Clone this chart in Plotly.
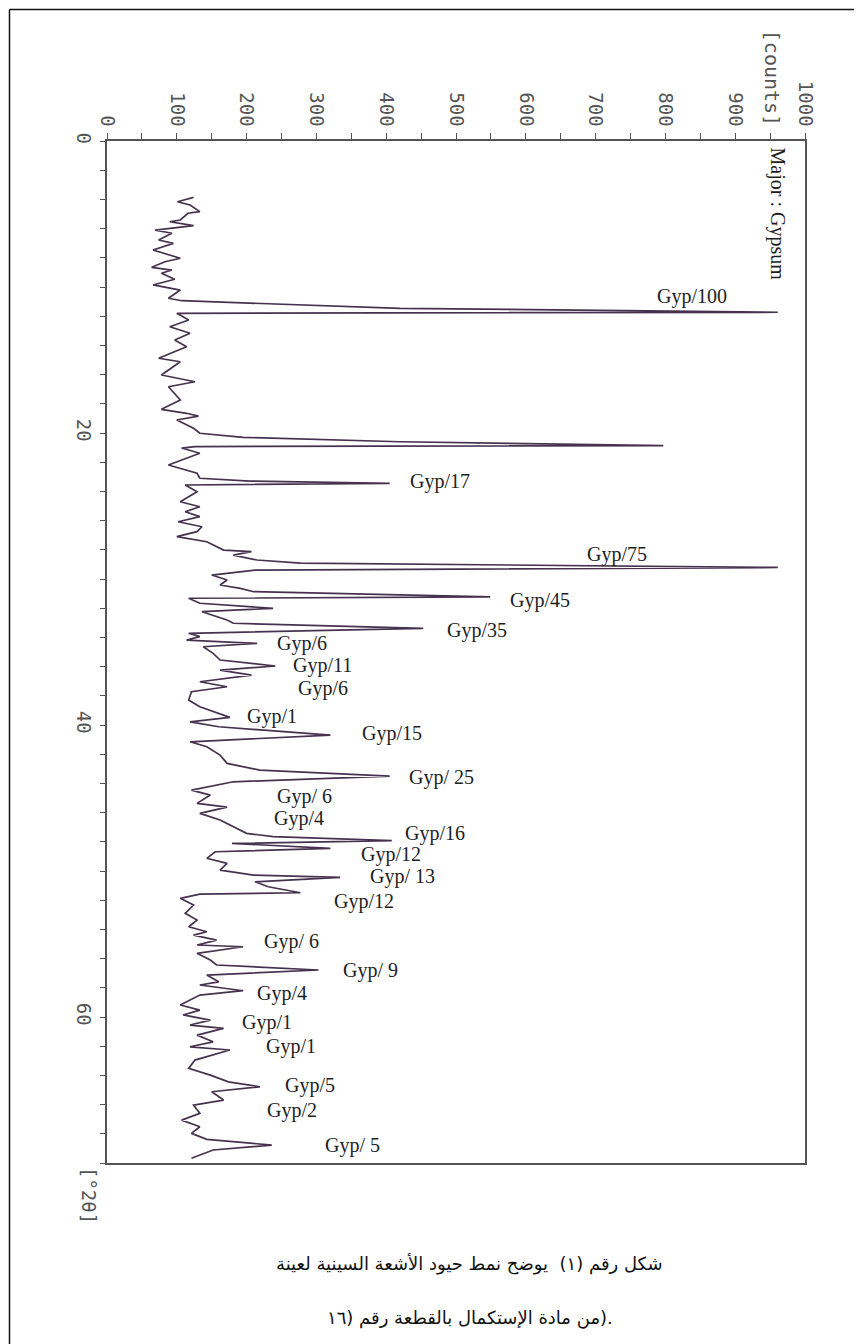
import plotly.graph_objects as go

# ---- data (2-theta in degrees, intensity in counts) ----
two_theta = [3.86, 4.16, 4.38, 4.84, 4.95, 5.41, 5.53, 5.80, 6.10, 6.32, 6.78, 7.01, 7.47, 8.03, 8.27,
             8.65, 8.84, 9.06, 9.47, 9.86, 10.21, 10.77, 10.94, 11.46, 11.73, 11.80,
             12.26, 12.72, 13.17, 13.63, 14.09, 14.88, 15.12, 16.03, 16.49, 16.83, 17.74, 18.38, 18.65,
             18.84, 19.11, 19.68, 20.02, 20.30, 20.60, 20.86, 20.93, 21.03, 21.39, 22.19, 22.76, 23.10,
             23.29, 23.45, 23.56, 24.02, 24.71, 25.05, 25.39, 25.73, 26.08, 26.42, 26.76, 27.10, 27.45,
             28.02, 28.13, 28.36, 28.70, 28.91, 29.21, 29.39, 29.73, 30.07, 30.41, 30.64, 30.87, 31.23,
             31.32, 31.66, 32.01, 32.24, 32.81, 33.03, 33.38, 33.72, 33.95, 34.18, 34.41, 34.64, 35.09,
             35.55, 35.96, 36.24, 36.58, 37.04, 37.38, 37.72, 38.29, 38.75, 39.48, 39.78, 40.12, 40.69,
             41.15, 41.49, 42.06, 42.63, 43.09, 43.50, 43.89, 44.46, 44.80, 45.37, 45.62, 46.05, 46.51,
             47.20, 47.42, 47.65, 47.92, 48.11, 48.45, 48.68, 49.13, 49.48, 49.94, 50.28, 50.43, 50.74,
             51.08, 51.49, 51.58, 51.87, 52.33, 52.90, 53.36, 53.82, 54.16, 54.39, 54.73, 55.07, 55.19,
             55.64, 56.10, 56.44, 56.78, 57.13, 57.59, 57.81, 58.20, 58.50, 59.18, 59.53, 59.86, 60.21,
             60.55, 60.78, 61.24, 61.70, 62.04, 62.26, 62.95, 63.52, 63.98, 64.44, 64.78, 65.12, 65.69,
             66.03, 66.60, 67.06, 67.52, 67.97, 68.38, 68.77, 69.11, 69.68]
counts = [124, 101, 119, 133, 116, 105, 90, 124, 69, 93, 74, 95, 66, 105, 83,
          64, 93, 78, 97, 66, 105, 88, 107, 420, 961, 100,
          117, 90, 119, 97, 114, 74, 105, 78, 126, 88, 105, 78, 114,
          131, 100, 124, 133, 195, 420, 797, 126, 107, 133, 88, 129, 133,
          205, 405, 112, 129, 105, 133, 112, 133, 102, 136, 129, 100, 143,
          167, 207, 181, 215, 277, 961, 212, 150, 172, 162, 191, 210, 549,
          117, 133, 238, 136, 172, 181, 453, 117, 133, 114, 215, 138, 152,
          162, 241, 162, 207, 133, 172, 121, 117, 133, 176, 119, 160, 320,
          119, 143, 162, 172, 219, 405, 181, 121, 148, 129, 172, 133, 162,
          191, 200, 238, 408, 179, 320, 155, 143, 172, 162, 210, 334, 212,
          231, 277, 133, 105, 124, 112, 129, 117, 143, 124, 157, 129, 195,
          129, 148, 157, 303, 143, 160, 133, 195, 133, 105, 133, 109, 148,
          119, 167, 129, 152, 119, 176, 126, 117, 148, 174, 219, 150, 167,
          124, 133, 107, 133, 121, 143, 236, 152, 121]

peak_labels = ["Gyp/100", "Gyp/17", "Gyp/75", "Gyp/45", "Gyp/35", "Gyp/6", "Gyp/11", "Gyp/6",
               "Gyp/1", "Gyp/15", "Gyp/ 25", "Gyp/ 6", "Gyp/4", "Gyp/16", "Gyp/12", "Gyp/ 13",
               "Gyp/12", "Gyp/ 6", "Gyp/ 9", "Gyp/4", "Gyp/1", "Gyp/1", "Gyp/5", "Gyp/2", "Gyp/ 5"]
label_theta = [10.62, 23.29, 28.29, 31.5, 33.5, 34.45, 35.9, 37.47, 39.39, 40.6, 43.6, 44.9, 46.4,
               47.4, 48.9, 50.4, 52.06, 54.8, 56.8, 58.4, 60.4, 62.0, 64.7, 66.4, 68.8]
label_counts = [785, 431, 685, 575, 484, 241, 264, 271, 198, 363, 430, 241, 236, 424, 361, 374,
                322, 222, 335, 212, 191, 225, 252, 226, 310]

caption_line1 = "شكل رقم (١)  يوضح نمط حيود الأشعة السينية لعينة"
caption_line2 = ".(من مادة الإستكمال بالقطعة رقم (١٦"
RLM = "\u200f"   # keeps the leading ".(" on the right-to-left side, as printed

fig = go.Figure()
fig.add_trace(go.Scatter(
    x=counts, y=two_theta, mode="lines",
    line=dict(color="#46324f", width=1.7),
    hoverinfo="skip", showlegend=False,
))

for txt, t, c in zip(peak_labels, label_theta, label_counts):
    fig.add_annotation(x=c, y=t, text=txt, showarrow=False, xanchor="left", yanchor="middle",
                       font=dict(family="Liberation Serif", size=20, color="#1e1e1e"))

# axis titles (rotated, as in the original printout)
fig.add_annotation(xref="paper", yref="paper", x=0.953, y=1.0127, text="[counts]", textangle=90,
                   showarrow=False, xanchor="center", yanchor="bottom",
                   font=dict(family="DejaVu Sans Mono", size=20, color="#555"))
fig.add_annotation(xref="paper", yref="paper", x=0.96, y=0.996, text="Major : Gypsum", textangle=90,
                   showarrow=False, xanchor="center", yanchor="top",
                   font=dict(family="Liberation Serif", size=20, color="#1e1e1e"))
fig.add_annotation(xref="paper", yref="paper", x=-0.025, y=-0.002, text="[°2θ]", textangle=90,
                   showarrow=False, xanchor="center", yanchor="top",
                   font=dict(family="DejaVu Sans Mono", size=19, color="#555"))

# caption
fig.add_annotation(xref="paper", yref="paper", x=0.52, y=-0.099,
                   text=caption_line1, showarrow=False,
                   xanchor="center", yanchor="middle",
                   font=dict(family="DejaVu Sans", size=18, color="#111"))
fig.add_annotation(xref="paper", yref="paper", x=0.52, y=-0.152,
                   text=RLM + caption_line2, showarrow=False,
                   xanchor="center", yanchor="middle",
                   font=dict(family="DejaVu Sans", size=18, color="#111"))

# outer frame of the figure
for x0, y0, x1, y1 in [(-0.1397, 1.1287, 1.0745, 1.1287), (-0.1397, 1.1287, -0.1397, -0.18),
                       (1.0745, 1.1287, 1.0745, -0.18)]:
    fig.add_shape(type="line", xref="paper", yref="paper", x0=x0, y0=y0, x1=x1, y1=y1,
                  line=dict(color="#111", width=1.5))

fig.update_layout(
    width=862, height=1344,
    margin=dict(l=99, r=65, t=133, b=189),
    paper_bgcolor="white", plot_bgcolor="white",
    xaxis=dict(range=[0, 1000], side="top", dtick=100, tick0=0, tickangle=90,
               showline=True, linecolor="#555", linewidth=1.5, mirror=True,
               ticks="outside", ticklen=6, tickcolor="#555", tickwidth=1,
               minor=dict(dtick=50, ticks="outside", ticklen=6, tickcolor="#555"),
               showgrid=False, zeroline=False,
               tickfont=dict(family="DejaVu Sans Mono", size=19, color="#555")),
    yaxis=dict(range=[70, 0], dtick=20, tick0=0, tickangle=90,
               showline=True, linecolor="#555", linewidth=1.5, mirror=True,
               ticks="outside", ticklen=5, tickcolor="#555", tickwidth=1,
               minor=dict(dtick=2, ticks="outside", ticklen=5, tickcolor="#555"),
               showgrid=False, zeroline=False,
               tickfont=dict(family="DejaVu Sans Mono", size=19, color="#555")),
)

fig.write_html("out.html")
